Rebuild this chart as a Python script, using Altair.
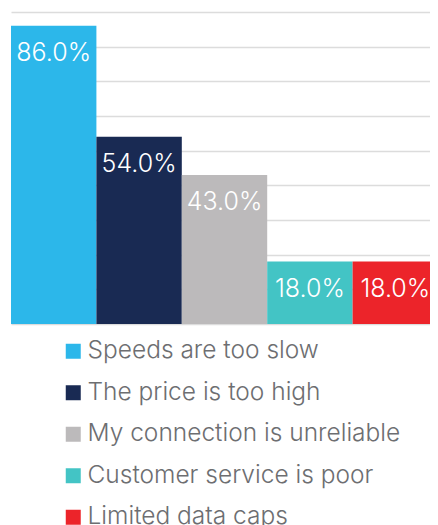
import altair as alt
import pandas as pd

categories = ["Speeds are too slow", "The price is too high", "My connection is unreliable",
              "Customer service is poor", "Limited data caps"]
values = [86.0, 54.0, 43.0, 18.0, 18.0]
colors = ["#2cb7ea", "#192a53", "#bcbabb", "#43c4c5", "#ec242a"]

df = pd.DataFrame({"reason": categories, "pct": values,
                   "label": [f"{v:.1f}%" for v in values]})

x = alt.X("reason:N", sort=categories, axis=None,
          scale=alt.Scale(paddingInner=0, paddingOuter=0))
y = alt.Y("pct:Q", scale=alt.Scale(domain=[0, 90], nice=False),
          axis=alt.Axis(values=list(range(0, 91, 10)), labels=False, ticks=False,
                        domain=False, title=None, grid=True, gridColor="#dcdcdc",
                        gridWidth=1.6))

bars = alt.Chart(df).mark_bar().encode(
    x=x, y=y,
    color=alt.Color("reason:N", sort=categories,
                    scale=alt.Scale(domain=categories, range=colors),
                    legend=alt.Legend(title=None, orient="none", legendX=50, legendY=327,
                                      padding=0,
                                      symbolType="square", symbolSize=225,
                                      symbolStrokeWidth=0, labelFontSize=24.5,
                                      labelFont="Inter", labelFontWeight=300,
                                      labelColor="#6d6e71",
                                      rowPadding=16.5, labelLimit=400, symbolOffset=0,
                                      labelOffset=2))
)

labels = alt.Chart(df).mark_text(baseline="top", dy=15, fontSize=25, color="white",
                                 font="Inter", fontWeight=300).encode(x=x, y=y, text="label:N")

chart = (bars + labels).properties(
    width=427, height=312,
    autosize=alt.AutoSizeParams(type="none"),
    padding={"left": 3, "top": 4, "right": -8, "bottom": 220}
).configure_view(stroke=None)

chart.save("out.html", embed_options={"renderer": "svg", "actions": False})
